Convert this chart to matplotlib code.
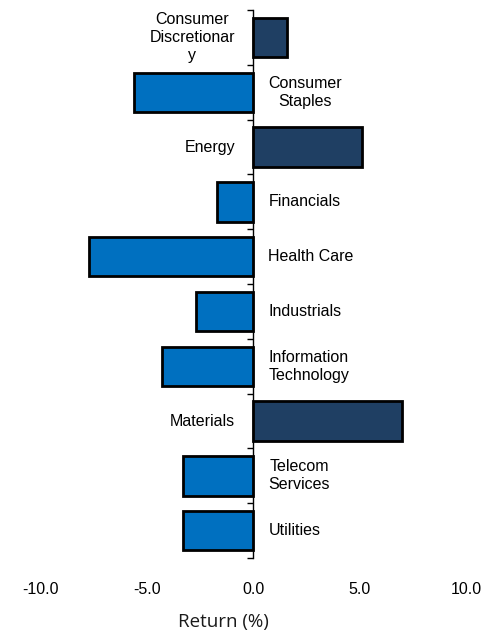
import matplotlib
matplotlib.use("Agg")
import matplotlib.pyplot as plt
import numpy as np

categories = ["Consumer\nDiscretionar\ny", "Consumer\nStaples", "Energy", "Financials",
              "Health Care", "Industrials", "Information\nTechnology", "Materials",
              "Telecom\nServices", "Utilities"]
returns = [1.6, -5.6, 5.1, -1.7, -7.7, -2.7, -4.3, 7.0, -3.3, -3.3]
xticks = [-10.0, -5.0, 0.0, 5.0, 10.0]

pos_color = "#1F3F63"
neg_color = "#0070C0"

fam = ["Liberation Sans", "Arial", "DejaVu Sans"]

fig = plt.figure(figsize=(4.9, 6.33), dpi=100)
ax = fig.add_axes([0.082, 0.1185, 0.869, 0.8655])

y = np.arange(len(categories))
colors = [pos_color if v >= 0 else neg_color for v in returns]
ax.barh(y, returns, height=0.72, color=colors, edgecolor="black", linewidth=2, zorder=3)

ax.set_xlim(-10, 10)
ax.set_ylim(len(categories) - 0.5, -0.5)

for s in ["top", "right", "bottom"]:
    ax.spines[s].set_visible(False)
ax.spines["left"].set_position(("data", 0))
ax.spines["left"].set_linewidth(1)
ax.set_yticks(np.arange(-0.5, len(categories), 1.0))
ax.set_yticklabels([])
ax.tick_params(axis="y", direction="out", length=4, width=1)

ax.set_xticks(xticks)
ax.set_xticklabels([f"{t:.1f}" for t in xticks], family=fam,
                   fontsize=11.5, color="black")
ax.tick_params(axis="x", length=0, pad=17)

for yi, (c, v) in enumerate(zip(categories, returns)):
    if v >= 0:
        ax.annotate(c, xy=(0, yi), xytext=(-13, 0), textcoords="offset points",
                    ha="right", va="center", multialignment="center",
                    family=fam, fontsize=11.5, color="black", linespacing=1.25)
    else:
        ax.annotate(c, xy=(0, yi), xytext=(11, 0), textcoords="offset points",
                    ha="left", va="center", multialignment="center",
                    family=fam, fontsize=11.5, color="black", linespacing=1.25)

fig.text(223 / 490, 1 - 622 / 633, "Return (%)", fontfamily="Open Sans", fontsize=13.5,
         color="#1a1a1a", ha="center", va="center")

fig.savefig("out.png", dpi=100)
